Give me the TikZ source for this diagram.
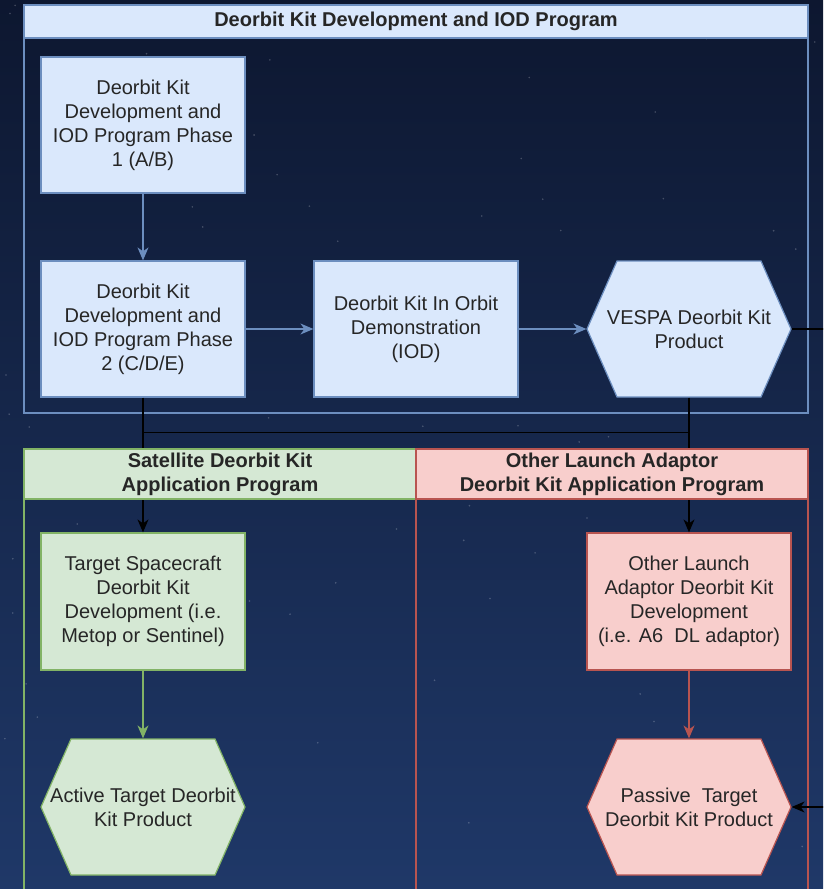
\documentclass[tikz,border=0pt]{standalone}
\usepackage{fontspec}
\setmainfont{Liberation Sans}
\usepackage{tikz}
\usetikzlibrary{arrows.meta,calc}
\definecolor{skyTop}{HTML}{0D1730}
\definecolor{skyBot}{HTML}{1F3868}
\definecolor{blueFill}{HTML}{DAE8FC}
\definecolor{blueLine}{HTML}{6C8EBF}
\definecolor{greenFill}{HTML}{D5E8D4}
\definecolor{greenLine}{HTML}{82B366}
\definecolor{redFill}{HTML}{F8CECC}
\definecolor{redLine}{HTML}{B85450}
\definecolor{ink}{HTML}{262626}
\tikzset{
  box/.style={rectangle, draw, line width=1.2pt, minimum width=204pt, minimum height=136pt,
    inner sep=0pt, align=center, text=ink, font=\fontsize{20}{24}\selectfont},
  hexText/.style={box, draw=none, fill=none},
  hexLine/.style={line width=1.2pt, line join=miter},
  blueBox/.style={fill=blueFill, draw=blueLine},
  greenBox/.style={fill=greenFill, draw=greenLine},
  redBox/.style={fill=redFill, draw=redLine},
  laneHead/.style={rectangle, draw, line width=1.2pt, inner sep=0pt, align=center, text=ink,
    font=\fontsize{20}{24}\selectfont\bfseries},
  lane/.style={line width=1.2pt},
  link/.style={line width=1.3pt, -{Stealth[length=13pt,width=11pt,inset=4pt]}},
}
% hexagon outline round a centre coordinate (204 x 136, 30 inset)
\newcommand{\HexAt}[2]{%
  \draw[hexLine, #2] ($(#1)+(-102,0)$) -- ++(30,-68) -- ++(144,0) -- ++(30,68)
    -- ++(-30,68) -- ++(-144,0) -- cycle;
}

\begin{document}
\begin{tikzpicture}[x=1pt, y=-1pt]
  \useasboundingbox (0,0) rectangle (823,889);
  \clip (0,0) rectangle (823,889);

  % Night sky
  \shade[top color=skyTop, bottom color=skyBot] (0,0) rectangle (823,889);
  \pgfmathsetseed{11}
  \foreach \s in {1,...,80}{
    \fill[white, opacity=0.22] (rnd*823, rnd*889) circle (0.9pt);
  }

  % Lanes
  \draw[lane, draw=blueLine] (24,5) rectangle (808,413);
  \draw[lane, draw=greenLine] (24,449) rectangle (416,900);
  \draw[lane, draw=redLine] (416,449) rectangle (808,900);

  % Hexagon centres
  \coordinate (vespaC) at (689,329);
  \coordinate (activeC) at (143,807);
  \coordinate (passiveC) at (689,807);
  \HexAt{vespaC}{blueBox}
  \HexAt{activeC}{greenBox}
  \HexAt{passiveC}{redBox}

  % Development program
  \node[box, blueBox] (phaseAB) at (143,125) {Deorbit Kit\\Development and\\IOD Program Phase\\1 (A/B)};
  \node[box, blueBox] (phaseCDE) at (143,329) {Deorbit Kit\\Development and\\IOD Program Phase\\2 (C/D/E)};
  \node[box, blueBox] (iod) at (416,329) {Deorbit Kit In Orbit\\Demonstration\\(IOD)};
  \node[hexText] (vespa) at (vespaC) {VESPA Deorbit Kit\\Product};

  % Application programs
  \node[box, greenBox, minimum height=137pt] (target) at (143,601.5) {Target Spacecraft\\Deorbit Kit\\Development (i.e.\\Metop or Sentinel)};
  \node[hexText] (active) at (activeC) {Active Target Deorbit\\Kit Product};
  \node[box, redBox, minimum height=137pt] (other) at (689,601.5) {Other Launch\\Adaptor Deorbit Kit\\Development\\(i.e. A6\ \ DL adaptor)};
  \node[hexText] (passive) at (passiveC) {Passive\ \ Target\\Deorbit Kit Product};

  % Connectors
  \draw[link, draw=blueLine] (phaseAB) -- (phaseCDE);
  \draw[link, draw=blueLine] (phaseCDE) -- (iod);
  \draw[link, draw=blueLine] (iod) -- (vespa);
  \draw[link, draw=greenLine] (target) -- (active);
  \draw[link, draw=redLine] (other) -- (passive);

  \draw[link, draw=black] (phaseCDE.south) -- ++(0,35) -| (other.north);
  \draw[link, draw=black] (vespa.south) -- ++(0,35) -| (target.north);
  \draw[link, draw=black] (vespa.east) -- ++(60,0) |- (passive.east);

  % Lane headers (over the connectors)
  \node[laneHead, fill=blueFill, draw=blueLine, minimum width=784pt, minimum height=33pt]
    (devHead) at (416,21.5) {Deorbit Kit Development and IOD Program};
  \node[laneHead, fill=greenFill, draw=greenLine, minimum width=392pt, minimum height=50pt]
    (satHead) at (220,474) {Satellite Deorbit Kit\\Application Program};
  \node[laneHead, fill=redFill, draw=redLine, minimum width=392pt, minimum height=50pt]
    (olaHead) at (612,474) {Other Launch Adaptor\\Deorbit Kit Application Program};
\end{tikzpicture}
\end{document}
